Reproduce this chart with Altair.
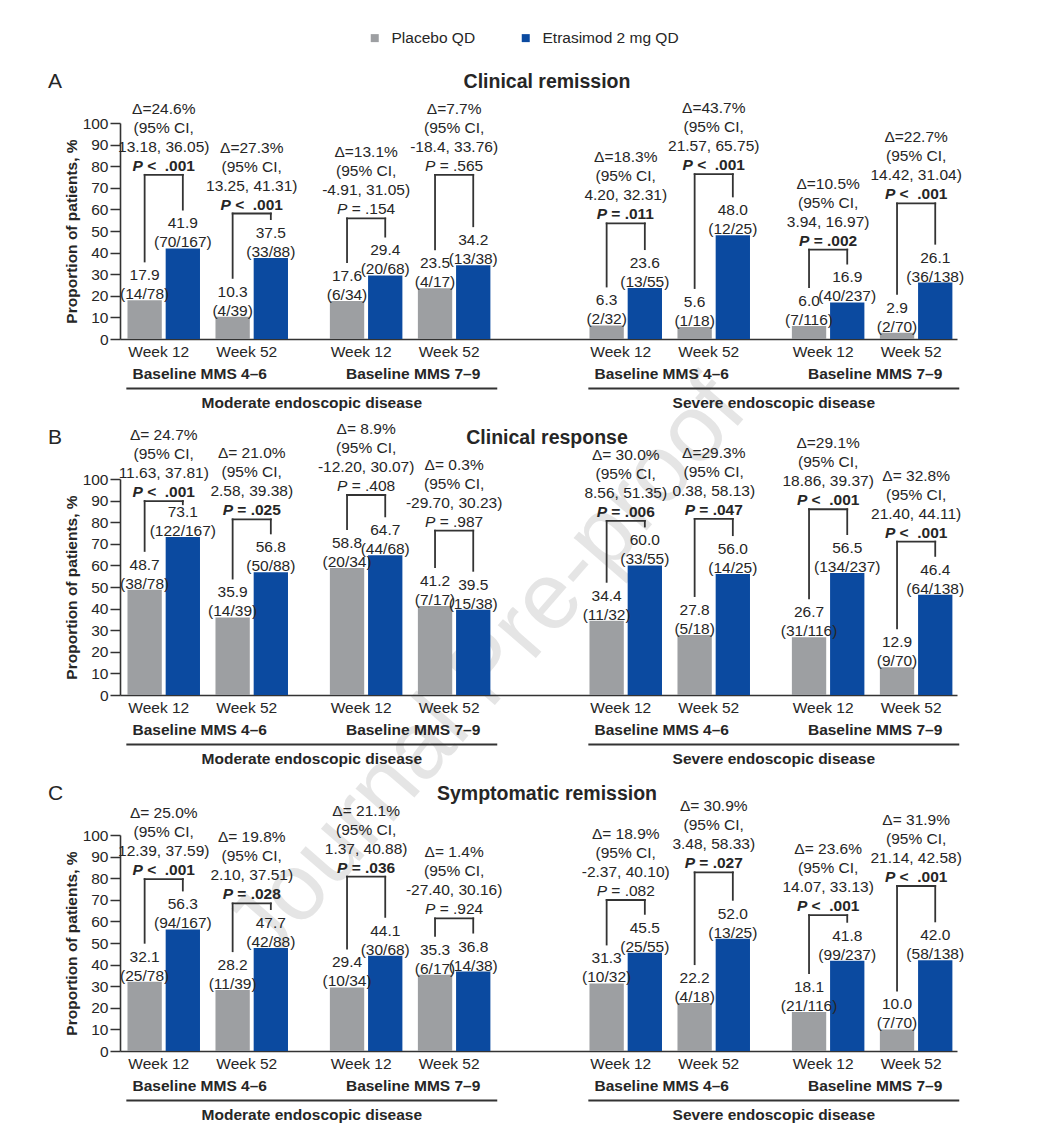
import altair as alt
import pandas as pd

# ---------------- data ----------------
treatments = ["Placebo QD", "Etrasimod 2 mg QD"]
diseases = ["Moderate endoscopic disease", "Severe endoscopic disease"]
mms_groups = ["Baseline MMS 4–6", "Baseline MMS 7–9"]
weeks = ["Week 12", "Week 52"]
panel_letters = ["A", "B", "C"]
panel_titles = ["Clinical remission", "Clinical response", "Symptomatic remission"]

# order: Mod 4-6 W12, Mod 4-6 W52, Mod 7-9 W12, Mod 7-9 W52, Sev 4-6 W12, Sev 4-6 W52, Sev 7-9 W12, Sev 7-9 W52
rem_placebo = [17.9, 10.3, 17.6, 23.5, 6.3, 5.6, 6.0, 2.9]
rem_placebo_n = ["14/78", "4/39", "6/34", "4/17", "2/32", "1/18", "7/116", "2/70"]
rem_etra = [41.9, 37.5, 29.4, 34.2, 23.6, 48.0, 16.9, 26.1]
rem_etra_n = ["70/167", "33/88", "20/68", "13/38", "13/55", "12/25", "40/237", "36/138"]
rem_delta = ["Δ=24.6%", "Δ=27.3%", "Δ=13.1%", "Δ=7.7%", "Δ=18.3%", "Δ=43.7%", "Δ=10.5%", "Δ=22.7%"]
rem_ci = ["13.18, 36.05)", "13.25, 41.31)", "-4.91, 31.05)", "-18.4, 33.76)",
          "4.20, 32.31)", "21.57, 65.75)", "3.94, 16.97)", "14.42, 31.04)"]
rem_p = ["<  .001", "<  .001", "= .154", "= .565", "= .011", "<  .001", "= .002", "<  .001"]
rem_sig = [True, True, False, False, True, True, True, True]
rem_bracket = [76.0, 58.1, 55.8, 76.0, 53.5, 76.3, 41.4, 62.8]

res_placebo = [48.7, 35.9, 58.8, 41.2, 34.4, 27.8, 26.7, 12.9]
res_placebo_n = ["38/78", "14/39", "20/34", "7/17", "11/32", "5/18", "31/116", "9/70"]
res_etra = [73.1, 56.8, 64.7, 39.5, 60.0, 56.0, 56.5, 46.4]
res_etra_n = ["122/167", "50/88", "44/68", "15/38", "33/55", "14/25", "134/237", "64/138"]
res_delta = ["Δ= 24.7%", "Δ= 21.0%", "Δ= 8.9%", "Δ= 0.3%", "Δ= 30.0%", "Δ=29.3%", "Δ=29.1%", "Δ= 32.8%"]
res_ci = ["11.63, 37.81)", "2.58, 39.38)", "-12.20, 30.07)", "-29.70, 30.23)",
          "8.56, 51.35)", "0.38, 58.13)", "18.86, 39.37)", "21.40, 44.11)"]
res_p = ["<  .001", "= .025", "= .408", "= .987", "= .006", "= .047", "<  .001", "<  .001"]
res_sig = [True, True, False, False, True, True, True, True]
res_bracket = [89.8, 81.3, 92.6, 76.1, 80.6, 81.5, 86.0, 71.0]

sym_placebo = [32.1, 28.2, 29.4, 35.3, 31.3, 22.2, 18.1, 10.0]
sym_placebo_n = ["25/78", "11/39", "10/34", "6/17", "10/32", "4/18", "21/116", "7/70"]
sym_etra = [56.3, 47.7, 44.1, 36.8, 45.5, 52.0, 41.8, 42.0]
sym_etra_n = ["94/167", "42/88", "30/68", "14/38", "25/55", "13/25", "99/237", "58/138"]
sym_delta = ["Δ= 25.0%", "Δ= 19.8%", "Δ= 21.1%", "Δ= 1.4%", "Δ= 18.9%", "Δ= 30.9%", "Δ= 23.6%", "Δ= 31.9%"]
sym_ci = ["12.39, 37.59)", "2.10, 37.51)", "1.37, 40.88)", "-27.40, 30.16)",
          "-2.37, 40.10)", "3.48, 58.33)", "14.07, 33.13)", "21.14, 42.58)"]
sym_p = ["<  .001", "= .028", "= .036", "= .924", "= .082", "= .027", "<  .001", "<  .001"]
sym_sig = [True, True, True, False, False, True, True, True]
sym_bracket = [79.6, 68.3, 80.7, 61.4, 69.9, 82.7, 62.9, 76.4]

# ---------------- layout / style ----------------
FONT = "Liberation Sans"
FS = 15.5
LH = 19
TXT = "#262626"
AXC = "#333333"
GRAY = "#9d9fa2"
BLUE = "#0b4aa0"
W, H = 837, 216
UNIT = 88.0
XMIN = -0.497
XMAX = XMIN + W / UNIT
MMS_STEP, DIS_STEP = 2.3, 5.25
BAR_IN, BAR_OUT = 0.022, 0.412
LEG_GAP = 18.0
MMS_DX = [-8, 3]

slots = []
for d in range(2):
    for m in range(2):
        for w in range(2):
            slots.append((d, m, w, d * DIS_STEP + m * MMS_STEP + w))

EM = {"P": 0.667, " ": 0.278, "<": 0.584, "=": 0.584, ".": 0.278}


def em_width(s):
    return sum(EM.get(c, 0.556) for c in s)


xscale = alt.Scale(domain=[XMIN, XMAX], nice=False, zero=False)
yscale = alt.Scale(domain=[0, 100], nice=False)

XAX = alt.Axis(domain=True, labels=False, ticks=False, title=None, grid=False,
               domainColor=AXC, domainWidth=1.6)
YAX = alt.Axis(values=list(range(0, 101, 10)), grid=False, tickSize=10,
               tickWidth=1.5, tickColor=AXC, domainColor=AXC, domainWidth=1.6,
               labelFont=FONT, labelFontSize=FS, labelColor=TXT, labelPadding=2,
               title="Proportion of patients, %", titleFont=FONT,
               titleFontSize=FS, titleFontWeight="bold", titleColor=TXT,
               titleX=-49, titleY=H / 2, titleAngle=270, titleAlign="center",
               titleBaseline="middle")

LEGEND = alt.Legend(orient="none", legendX=247, legendY=-93, direction="horizontal",
                    title=None, symbolType="square", symbolSize=64, symbolStrokeWidth=0,
                    labelFontSize=FS, labelFont=FONT, labelColor=TXT, columnPadding=42,
                    labelOffset=9, padding=0)


def X(f):
    return alt.X(f, scale=xscale, axis=XAX)


def Y(f):
    return alt.Y(f, scale=yscale, axis=YAX)


def tx(df, **kw):
    base = dict(font=FONT, fontSize=FS, color=TXT)
    base.update(kw)
    return alt.Chart(df).mark_text(**base)


def make_panel(idx, placebo, placebo_n, etra, etra_n, delta, ci, pv, sig, bracket, watermark=False):
    bars, labels, legs, tops, ann, prow = [], [], [], [], [], []
    for i, (d, m, w, pos) in enumerate(slots):
        for t, val, n, lo, hi in [(treatments[0], placebo[i], placebo_n[i], pos - BAR_OUT, pos - BAR_IN),
                                  (treatments[1], etra[i], etra_n[i], pos + BAR_IN, pos + BAR_OUT)]:
            bars.append({"x1": lo, "x2": hi, "v": val, "treatment": t})
            labels.append({"xc": (lo + hi) / 2, "v": val, "lab": f"{val:.1f}\n({n})"})
        xl, xr = pos - (BAR_OUT + BAR_IN) / 2, pos + (BAR_OUT + BAR_IN) / 2
        yl = min(placebo[i] + LEG_GAP, bracket[i] - 1.5)
        yr = min(etra[i] + LEG_GAP, bracket[i] - 1.5)
        legs.append({"x": xl, "y1": yl, "y2": bracket[i]})
        legs.append({"x": xr, "y1": yr, "y2": bracket[i]})
        tops.append({"x1": xl, "x2": xr, "y": bracket[i]})
        ann.append({"x": pos, "y": bracket[i], "txt": f"{delta[i]}\n(95% CI,\n{ci[i]}"})
        wpx = em_width("P " + pv[i]) * FS
        x0 = pos - (wpx / 2) / UNIT
        prow.append({"xp": x0, "xr": x0 + (EM["P"] + EM[" "]) * FS / UNIT, "y": bracket[i],
                     "rest": pv[i].replace(" ", "\u00a0"), "sig": sig[i]})
    bars, labels, legs, tops = map(pd.DataFrame, (bars, labels, legs, tops))
    ann, prow = pd.DataFrame(ann), pd.DataFrame(prow)
    psig, pns = prow[prow.sig], prow[~prow.sig]

    weeks_df = pd.DataFrame([{"x": s[3], "t": weeks[s[2]]} for s in slots])
    mms_df = pd.DataFrame([{"x": (slots[k][3] + slots[k + 1][3]) / 2 + MMS_DX[slots[k][1]] / UNIT,
                            "t": mms_groups[slots[k][1]]} for k in range(0, 8, 2)])
    und = pd.DataFrame([{"x1": slots[k][3] - 0.425, "x2": slots[k + 3][3] + 0.49,
                         "xc": (slots[k][3] - 0.425 + slots[k + 3][3] + 0.49) / 2,
                         "t": diseases[slots[k][0]]} for k in (0, 4)])

    layers = []
    if watermark:
        layers.append(tx(pd.DataFrame({"t": ["Journal Pre-proof"]}), fontSize=95, color="#e5e5e5",
                         angle=311, align="center", baseline="middle")
                      .encode(x=alt.value(367), y=alt.value(547), text="t:N"))
    bar_layer = alt.Chart(bars).mark_bar().encode(
        x=X("x1:Q"), x2="x2:Q", y=Y("v:Q"), y2=alt.datum(0),
        color=alt.Color("treatment:N", scale=alt.Scale(domain=treatments, range=[GRAY, BLUE]),
                        legend=LEGEND),
    )
    layers.append(bar_layer)
    # multi-line text: first line sits at y, later lines go downward
    layers.append(tx(labels, lineBreak="\n", lineHeight=LH, baseline="bottom", dy=2 - LH)
                  .encode(x=X("xc:Q"), y=Y("v:Q"), text="lab:N"))
    layers.append(alt.Chart(legs).mark_rule(color=AXC, strokeWidth=1.8, strokeCap="square")
                  .encode(x=X("x:Q"), y=Y("y1:Q"), y2="y2:Q"))
    layers.append(alt.Chart(tops).mark_rule(color=AXC, strokeWidth=1.8, strokeCap="square")
                  .encode(x=X("x1:Q"), x2="x2:Q", y=Y("y:Q")))
    layers.append(tx(ann, lineBreak="\n", lineHeight=LH, baseline="bottom", dy=-1 - 3 * LH)
                  .encode(x=X("x:Q"), y=Y("y:Q"), text="txt:N"))
    for dfp, wt in ((psig, "bold"), (pns, "normal")):
        if len(dfp):
            dfp = dfp.assign(P="P")
            layers.append(tx(dfp, align="left", baseline="bottom", dy=-1, fontStyle="italic",
                             fontWeight=wt).encode(x=X("xp:Q"), y=Y("y:Q"), text="P:N"))
            layers.append(tx(dfp, align="left", baseline="bottom", dy=-1, fontWeight=wt)
                          .encode(x=X("xr:Q"), y=Y("y:Q"), text="rest:N"))
    layers.append(tx(weeks_df, baseline="middle", dx=-5)
                  .encode(x=X("x:Q"), y=alt.value(H + 13), text="t:N"))
    layers.append(tx(mms_df, baseline="middle", fontWeight="bold")
                  .encode(x=X("x:Q"), y=alt.value(H + 35), text="t:N"))
    layers.append(alt.Chart(und).mark_rule(color=AXC, strokeWidth=1.8)
                  .encode(x=X("x1:Q"), x2="x2:Q", y=alt.value(H + 49.5)))
    layers.append(tx(und, baseline="middle", fontWeight="bold")
                  .encode(x=X("xc:Q"), y=alt.value(H + 63.5), text="t:N"))
    hdr = pd.DataFrame({"t": [panel_titles[idx]], "l": [panel_letters[idx]]})
    layers.append(tx(hdr, baseline="middle", fontWeight="bold", fontSize=19.5)
                  .encode(x=alt.value(427), y=alt.value(-41.5), text="t:N"))
    layers.append(tx(hdr, baseline="middle", align="left", fontSize=21)
                  .encode(x=alt.value(-72), y=alt.value(-41.5), text="l:N"))
    return alt.layer(*layers).properties(width=W, height=H)


pA = make_panel(0, rem_placebo, rem_placebo_n, rem_etra, rem_etra_n, rem_delta, rem_ci, rem_p,
                rem_sig, rem_bracket, watermark=True)
pB = make_panel(1, res_placebo, res_placebo_n, res_etra, res_etra_n, res_delta, res_ci, res_p,
                res_sig, res_bracket)
pC = make_panel(2, sym_placebo, sym_placebo_n, sym_etra, sym_etra_n, sym_delta, sym_ci, sym_p,
                sym_sig, sym_bracket)

chart = alt.vconcat(pA, pB, pC, spacing=140, bounds="flush").properties(
    padding={"left": 40, "top": 22, "right": 5, "bottom": 5}, background="white"
).configure_view(stroke=None)

chart.save("out.html", embed_options={"renderer": "svg", "actions": False})
